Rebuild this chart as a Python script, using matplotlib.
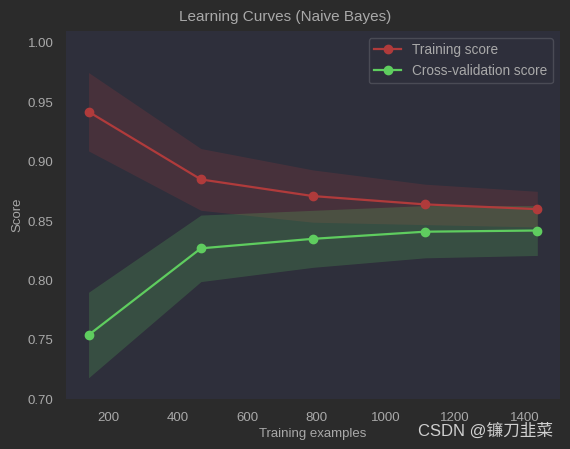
import matplotlib.pyplot as plt
import numpy as np

# learning curve values
train_sizes = np.array([143, 467, 790, 1113, 1437])
train_mean = np.array([0.942, 0.885, 0.871, 0.864, 0.860])
train_std = np.array([0.033, 0.026, 0.022, 0.017, 0.015])
test_mean = np.array([0.754, 0.827, 0.835, 0.841, 0.842])
test_std = np.array([0.036, 0.028, 0.024, 0.022, 0.021])

bg = "#2b2b2b"
axbg = "#2e2f3b"
txt = "#a9a9a9"
red = "#b03b3b"
green = "#5fcd5f"

plt.rcParams['font.family'] = ['Liberation Sans', 'DejaVu Sans']

fig = plt.figure(figsize=(5.7, 4.49), dpi=100, facecolor=bg)
ax = fig.add_axes([0.116, 0.111, 0.866, 0.82])
ax.set_facecolor(axbg)
for s in ax.spines.values():
    s.set_visible(False)

ax.fill_between(train_sizes, train_mean - train_std, train_mean + train_std,
                alpha=0.2, color=red, linewidth=0)
ax.fill_between(train_sizes, test_mean - test_std, test_mean + test_std,
                alpha=0.2, color=green, linewidth=0)
ax.plot(train_sizes, train_mean, 'o-', color=red, lw=1.6, ms=6, label="Training score")
ax.plot(train_sizes, test_mean, 'o-', color=green, lw=1.6, ms=6, label="Cross-validation score")

ax.set_ylim(0.7, 1.01)
ax.set_yticks([0.70, 0.75, 0.80, 0.85, 0.90, 0.95, 1.00])
ax.set_xticks([200, 400, 600, 800, 1000, 1200, 1400])
ax.tick_params(axis='y', colors=txt, labelsize=9.5, length=0, pad=9)
ax.tick_params(axis='x', colors=txt, labelsize=9.5, length=0, pad=9)

# title is centred on the figure, not the axes
fig.text(0.5, 0.962, "Learning Curves (Naive Bayes)", ha='center', va='center',
         color=txt, fontsize=11)
ax.set_xlabel("Training examples", color=txt, fontsize=9.5, labelpad=3)
ax.set_ylabel("Score", color=txt, fontsize=9.5, labelpad=3)

leg = ax.legend(loc='upper right', fontsize=9.8, facecolor=axbg, edgecolor="#4a4b55",
                labelcolor=txt, fancybox=True, framealpha=1)

fig.text(0.971, 0.022, "CSDN @镰刀韭菜", ha='right', va='bottom', color="#d0d0d0",
         fontsize=12, family=['Liberation Sans', 'Noto Sans CJK SC'])

fig.savefig("out.png", dpi=100, facecolor=bg)
